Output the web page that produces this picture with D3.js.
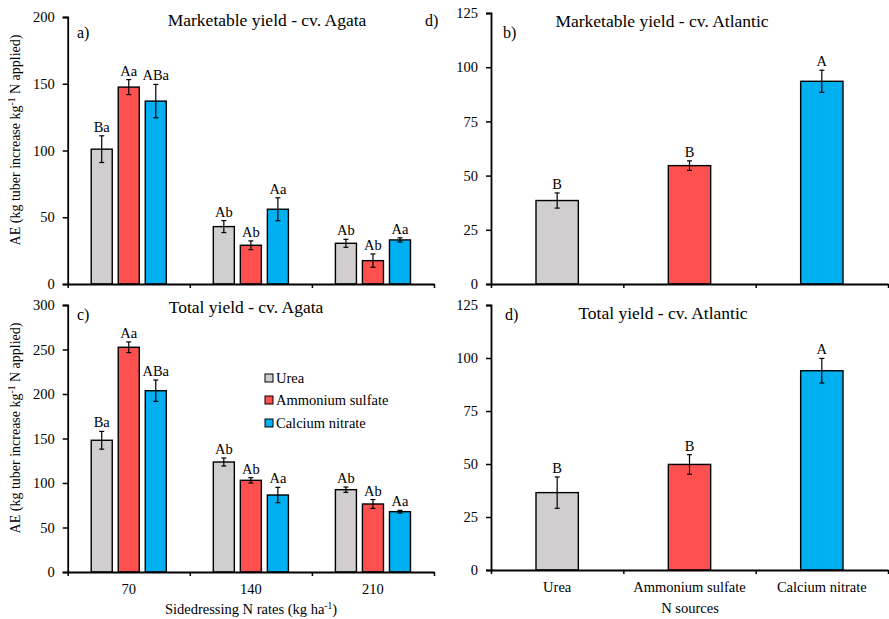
<!DOCTYPE html>
<html>
<head>
<meta charset="utf-8">
<script src="https://cdn.jsdelivr.net/npm/d3@7"></script>
<style>
  body { margin: 0; background: #fff; }
  text { font-family: "Times New Roman", "Liberation Serif", serif; fill: #000; }
</style>
</head>
<body>
<div id="chart"></div>
<script>
// data

const rates = ["70", "140", "210"];
const sources = ["Urea", "Ammonium sulfate", "Calcium nitrate"];
const colors = ["#d0cece", "#ff5050", "#00b0f0"];

// cv. Agata, by rate then source
const agataMkt = [[101, 147.5, 137], [43, 29, 56], [30.5, 17.5, 33]];
const agataMktErr = [[10, 5.6, 12.5], [4.5, 3.3, 8.6], [3, 5, 1.6]];
const agataMktLab = [["Ba", "Aa", "ABa"], ["Ab", "Ab", "Aa"], ["Ab", "Ab", "Aa"]];

const agataTot = [[148, 252.5, 203.7], [123.6, 103, 86.5], [92.5, 76.4, 67.8]];
const agataTotErr = [[10, 6, 12], [4.5, 3, 8.6], [3, 5, 1.5]];
const agataTotLab = [["Ba", "Aa", "ABa"], ["Ab", "Ab", "Aa"], ["Ab", "Ab", "Aa"]];

// cv. Atlantic, by source
const atlMkt = [38.5, 54.6, 93.5];
const atlMktErr = [3.5, 2.2, 5.1];
const atlMktLab = ["B", "B", "A"];

const atlTot = [36.5, 49.8, 94];
const atlTotErr = [7.4, 4.6, 5.8];
const atlTotLab = ["B", "B", "A"];

const leftTicks = [[0, 50, 100, 150, 200], [0, 50, 100, 150, 200, 250, 300]];
const rightTicks = [0, 25, 50, 75, 100, 125];

// svg

const svg = d3.select("#chart")
  .append("svg")
    .attr("width", 889)
    .attr("height", 619);

// a function that draws one panel
function panel(opts) {
  const g = svg.append("g");
  const x = d3.scaleBand().domain(opts.cats).range(opts.xr);
  if (opts.grouped) x.padding(0); else x.paddingInner(0.68).paddingOuter(0.34);
  const y = d3.scaleLinear().domain([0, opts.ymax]).range(opts.yr);

  // bars
  opts.rows.forEach(function(r) {
    g.append("rect")
      .attr("x", r.x)
      .attr("y", y(r.v))
      .attr("width", r.w)
      .attr("height", y(0) - y(r.v))
      .attr("fill", r.c)
      .attr("stroke", "#000")
      .attr("stroke-width", 1.4);
    const cx = r.x + r.w / 2;
    g.append("line")
      .attr("x1", cx).attr("x2", cx)
      .attr("y1", y(r.v - r.e)).attr("y2", y(r.v + r.e))
      .attr("stroke", "#000").attr("stroke-width", 1.2);
    [r.v - r.e, r.v + r.e].forEach(function(v) {
      g.append("line")
        .attr("x1", cx - 2.5).attr("x2", cx + 2.5)
        .attr("y1", y(v)).attr("y2", y(v))
        .attr("stroke", "#000").attr("stroke-width", 1.2);
    });
    g.append("text")
      .attr("x", cx)
      .attr("y", y(r.v + r.e) - 4)
      .attr("text-anchor", "middle")
      .style("font-size", "14.5px")
      .text(r.lab);
  });

  // y axis
  const ya = g.append("g")
    .attr("transform", `translate(${opts.xr[0]},0)`)
    .call(d3.axisLeft(y).tickValues(opts.ticks).tickSize(5).tickPadding(8));
  ya.select(".domain").attr("stroke-width", 1.8);
  ya.selectAll(".tick line").attr("stroke-width", 1.5);
  ya.selectAll(".tick text").style("font-size", "14.5px");

  // x axis with ticks between categories
  const xb = d3.scaleLinear().domain([0, opts.cats.length]).range(opts.xr);
  const xa = g.append("g")
    .attr("transform", `translate(0,${y(0)})`)
    .call(d3.axisBottom(xb).tickValues(d3.range(opts.cats.length + 1))
      .tickSize(4).tickSizeOuter(0).tickFormat(""));
  xa.select(".domain").attr("stroke-width", 1.8);
  xa.selectAll(".tick line").attr("stroke-width", 1.5);

  if (opts.catLabels) {
    opts.cats.forEach(function(c) {
      g.append("text")
        .attr("x", x(c) + x.bandwidth() / 2)
        .attr("y", y(0) + 22)
        .attr("text-anchor", "middle")
        .style("font-size", "14.5px")
        .text(c);
    });
  }

  // title and letter
  g.append("text")
    .attr("x", opts.title[1]).attr("y", opts.title[2])
    .attr("text-anchor", "middle")
    .style("font-size", "17.5px")
    .text(opts.title[0]);
  g.append("text")
    .attr("x", opts.letter[1]).attr("y", opts.letter[2])
    .style("font-size", "16px")
    .text(opts.letter[0]);
  return { x: x, y: y };
}

// rows for the grouped (Agata) panels
function groupedRows(xr, vals, errs, labs) {
  const x = d3.scaleBand().domain(rates).range(xr).padding(0);
  const xs = d3.scaleBand().domain(sources).range([0, x.bandwidth()])
    .paddingInner(0.222).paddingOuter(0.87);
  const rows = [];
  rates.forEach(function(r, i) {
    sources.forEach(function(s, j) {
      rows.push({ x: x(r) + xs(s), w: xs.bandwidth(), v: vals[i][j], e: errs[i][j],
        lab: labs[i][j], c: colors[j] });
    });
  });
  return rows;
}

function singleRows(xr, vals, errs, labs) {
  const x = d3.scaleBand().domain(sources).range(xr).paddingInner(0.68).paddingOuter(0.34);
  return sources.map(function(s, j) {
    return { x: x(s), w: x.bandwidth(), v: vals[j], e: errs[j], lab: labs[j], c: colors[j] };
  });
}

const leftX = [67.7, 434];
const rightX = [491, 888];

panel({ cats: rates, grouped: true, xr: leftX, yr: [284, 17], ymax: 200, ticks: leftTicks[0],
  rows: groupedRows(leftX, agataMkt, agataMktErr, agataMktLab),
  title: ["Marketable yield - cv. Agata", 267, 26], letter: ["a)", 77, 38] });

panel({ cats: rates, grouped: true, xr: leftX, yr: [572, 305], ymax: 300, ticks: leftTicks[1],
  rows: groupedRows(leftX, agataTot, agataTotErr, agataTotLab), catLabels: true,
  title: ["Total yield - cv. Agata", 246, 313], letter: ["c)", 77, 320] });

panel({ cats: sources, grouped: false, xr: rightX, yr: [284, 13], ymax: 125, ticks: rightTicks,
  rows: singleRows(rightX, atlMkt, atlMktErr, atlMktLab),
  title: ["Marketable yield - cv. Atlantic", 662, 27], letter: ["b)", 503, 38] });

panel({ cats: sources, grouped: false, xr: rightX, yr: [570, 305], ymax: 125, ticks: rightTicks,
  rows: singleRows(rightX, atlTot, atlTotErr, atlTotLab), catLabels: true,
  title: ["Total yield - cv. Atlantic", 663, 319], letter: ["d)", 505, 320] });

// stray panel letter at the top
svg.append("text")
  .attr("x", 425).attr("y", 26)
  .style("font-size", "16px")
  .text("d)");

// axis titles
[140, 428].forEach(function(cy) {
  const t = svg.append("text")
    .attr("transform", `translate(20,${cy}) rotate(-90)`)
    .attr("text-anchor", "middle")
    .style("font-size", "14px");
  t.append("tspan").text("AE (kg tuber increase kg");
  t.append("tspan").attr("dy", -5).style("font-size", "9.5px").text("-1");
  t.append("tspan").attr("dy", 5).text(" N applied)");
});

const xt = svg.append("text")
  .attr("x", 251).attr("y", 614)
  .attr("text-anchor", "middle")
  .style("font-size", "14.5px");
xt.append("tspan").text("Sidedressing N rates (kg ha");
xt.append("tspan").attr("dy", -5).style("font-size", "9.5px").text("-1");
xt.append("tspan").attr("dy", 5).text(")");

svg.append("text")
  .attr("x", 690).attr("y", 613)
  .attr("text-anchor", "middle")
  .style("font-size", "14.5px")
  .text("N sources");

// legend
const legend = svg.append("g");
sources.forEach(function(s, i) {
  const ly = [378, 400, 423][i];
  legend.append("rect")
    .attr("x", 265).attr("y", ly - 4)
    .attr("width", 8).attr("height", 8)
    .attr("fill", colors[i]).attr("stroke", "#000").attr("stroke-width", 1);
  legend.append("text")
    .attr("x", 276).attr("y", ly + 5)
    .style("font-size", "14.5px")
    .text(s);
});
</script>
</body>
</html>
